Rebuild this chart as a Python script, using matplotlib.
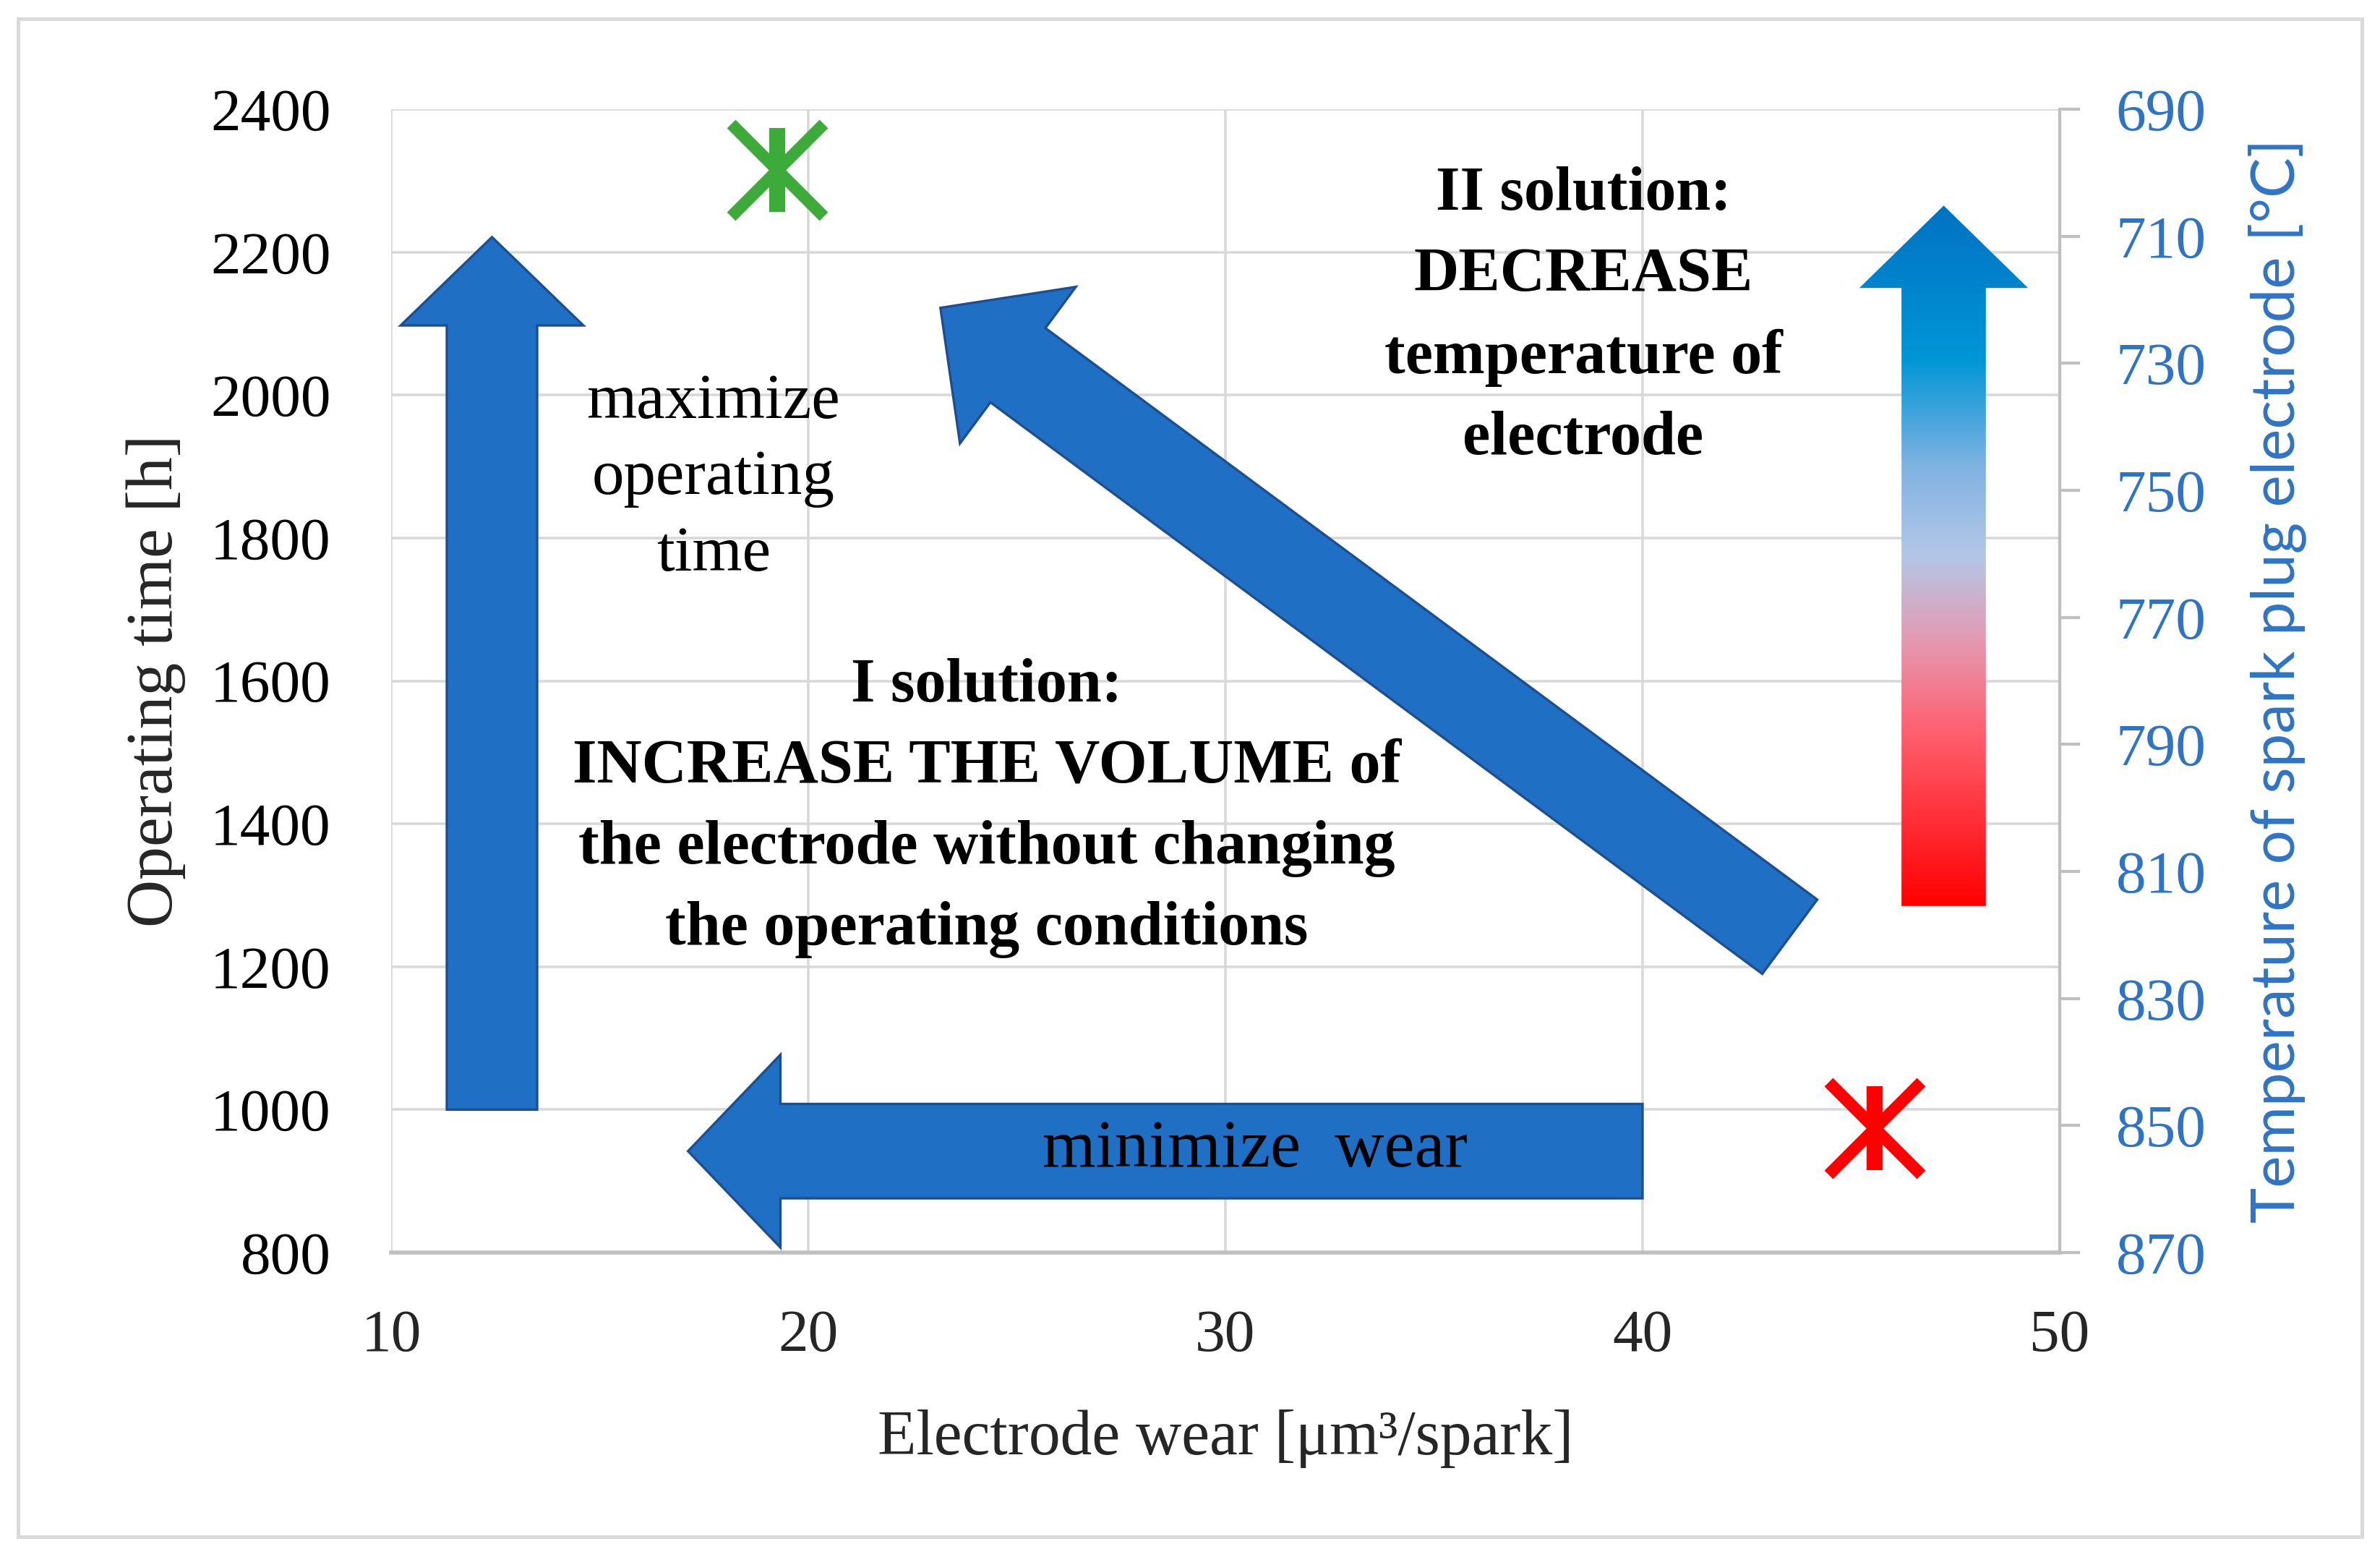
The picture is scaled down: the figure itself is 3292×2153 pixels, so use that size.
import numpy as np
import matplotlib
matplotlib.use("Agg")
import matplotlib.pyplot as plt
from matplotlib.patches import Polygon, Rectangle
from matplotlib.transforms import IdentityTransform
from matplotlib.colors import LinearSegmentedColormap

plt.rcParams['font.family'] = ['Liberation Serif', 'DejaVu Serif']

# axes
x_ticks = [10, 20, 30, 40, 50]
y_ticks = [800, 1000, 1200, 1400, 1600, 1800, 2000, 2200, 2400]
t_ticks = [690, 710, 730, 750, 770, 790, 810, 830, 850, 870]

# points (electrode wear, operating time)
good_pt = [19.25, 2315]
bad_pt = [45.56, 974]

# arrows: tail (x, y), tip (x, y)
arr_time = [(12.42, 1000), (12.42, 2221)]
arr_wear = [(40.0, 942), (17.12, 942)]
arr_diag = [(43.53, 1242), (23.17, 2122)]
arr_temp = [(47.22, 1285), (47.22, 2265)]

BLUE = '#1f6fc5'
EDGE = '#1d4f8e'
TBLUE = '#2f74c4'
GRID = '#d9d9d9'

fig = plt.figure(figsize=(16.46, 10.765), dpi=200)
fig.patches.append(Rectangle((0.0076, 0.013), 0.9848, 0.975, transform=fig.transFigure,
                             fill=False, edgecolor=GRID, lw=1.8))

ax = fig.add_axes([0.1643, 0.1955, 0.7011, 0.7344])
ax.set_xlim(10, 50)
ax.set_ylim(800, 2400)
ax.set_xticks(x_ticks)
ax.set_yticks(y_ticks)
ax.grid(True, color=GRID, lw=1.3)
ax.set_axisbelow(True)
ax.tick_params(axis='both', length=0, labelsize=30)
ax.tick_params(axis='y', pad=30, labelcolor='black')
ax.tick_params(axis='x', pad=28, labelcolor='#262626')
for s in ['top', 'left', 'right']:
    ax.spines[s].set_visible(False)
ax.spines['bottom'].set_color('#bfbfbf')
ax.spines['bottom'].set_linewidth(2)

ax.set_xlabel('Electrode wear [μm³/spark]', fontsize=31.5, color='#262626', va='center')
ax.xaxis.set_label_coords(0.5, -0.1626)
ax.set_ylabel('Operating time [h]', fontsize=33, color='#262626', va='center')
ax.yaxis.set_label_coords(-0.1408, 0.5)

ax2 = ax.twinx()
ax2.set_ylim(870, 690)
ax2.set_yticks(t_ticks)
for s in ['top', 'left', 'bottom']:
    ax2.spines[s].set_visible(False)
ax2.spines['right'].set_color('#bfbfbf')
ax2.spines['right'].set_linewidth(1.5)
ax2.tick_params(axis='y', direction='out', length=10, width=1.5, color='#bfbfbf',
                labelsize=30, labelcolor=TBLUE, pad=18)
ax2.set_ylabel('Temperature of spark plug electrode [°C]', fontsize=30, color=TBLUE,
               family=['Lato', 'DejaVu Sans'], va='center')
ax2.yaxis.set_label_coords(1.1304, 0.5)


def arrow_poly(tail, tip, shaft, head_w, head_l, **kw):
    # build a block arrow in pixel space so the widths stay even on the slant
    t = ax.transData.transform([tail, tip])
    d = t[1] - t[0]
    u = d / np.hypot(*d)
    n = np.array([-u[1], u[0]])
    k = fig.dpi / 72.0
    sw, hw, hl = shaft * k / 2, head_w * k / 2, head_l * k
    base = t[1] - u * hl
    pts = [t[0] + n * sw, base + n * sw, base + n * hw, t[1],
           base - n * hw, base - n * sw, t[0] - n * sw]
    return Polygon(pts, closed=True, transform=IdentityTransform(), **kw)


for tail, tip, sh, hw, hl in [(arr_time[0], arr_time[1], 45, 91, 44),
                              (arr_wear[0], arr_wear[1], 47, 96, 46),
                              (arr_diag[0], arr_diag[1], 46, 97, 48)]:
    ax.add_patch(arrow_poly(tail, tip, sh, hw, hl, facecolor=BLUE, edgecolor=EDGE,
                            lw=1.2, zorder=3))

# gradient arrow (hot -> cold)
grad = LinearSegmentedColormap.from_list('temp', [
    (0.0, '#ff0000'), (0.25, '#ff6070'), (0.38, '#e49ab2'), (0.5, '#b4c7e7'),
    (0.63, '#7fb2e2'), (0.78, '#0096d6'), (1.0, '#0072c2')])
gp = arrow_poly(arr_temp[0], arr_temp[1], 42, 84, 41, facecolor='none',
                edgecolor='none')
ax.add_patch(gp)
img = ax.imshow(np.linspace(0, 1, 256).reshape(-1, 1), cmap=grad, origin='lower',
                aspect='auto', extent=[44.5, 50, arr_temp[0][1], arr_temp[1][1]],
                zorder=3)
img.set_clip_path(gp)
ax.set_xlim(10, 50)
ax.set_ylim(800, 2400)

# markers
for pt, c in [(good_pt, '#3dab3a'), (bad_pt, '#ff0000')]:
    ax.plot(pt[0], pt[1], marker='x', ms=46, mew=6, color=c, zorder=4, ls='none')
    ax.plot(pt[0], pt[1], marker='|', ms=42, mew=8, color=c, zorder=4, ls='none')

# annotations
ax.text(17.73, 1883, 'maximize\noperating\ntime', ha='center', va='center',
        fontsize=32, linespacing=1.4, color='black', zorder=5)
ax.text(24.28, 1422, 'I solution:\nINCREASE THE VOLUME of\nthe electrode without changing\n'
        'the operating conditions', ha='center', va='center', fontsize=31,
        fontweight='bold', linespacing=1.55, color='black', zorder=5)
ax.text(38.58, 2109, 'II solution:\nDECREASE\ntemperature of\nelectrode', ha='center',
        va='center', fontsize=31, fontweight='bold', linespacing=1.55, color='black',
        zorder=5)
ax.text(30.72, 943, 'minimize  wear', ha='center', va='center', fontsize=34,
        color='black', zorder=5)

fig.savefig('out.png', dpi=200)
